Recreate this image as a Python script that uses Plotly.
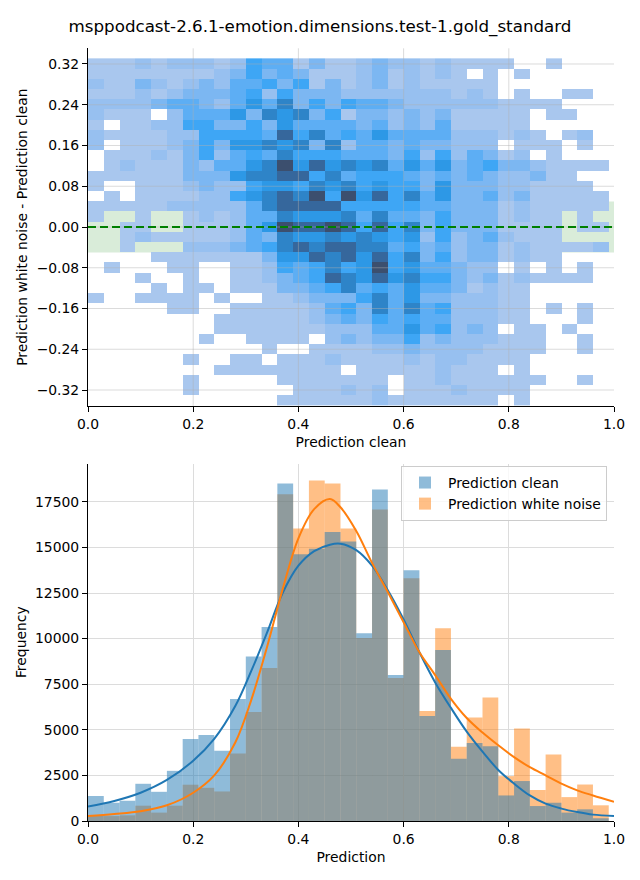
import numpy as np
import plotly.graph_objects as go

TITLE = "msppodcast-2.6.1-emotion.dimensions.test-1.gold_standard"

# ---------------- 2D histogram (top) ----------------
# bin edges
hx_edges = [round(0.03 * i, 2) for i in range(34)]          # 0.00 .. 0.99
hy_edges = [round(-0.351 + 0.02006 * i, 5) for i in range(35)]  # -0.351 .. 0.331

# intensity level of each cell (0 = empty), rows listed from top (high y) to bottom
hist2d_left = [
    [1,1,1,2,1,2,2,2,1,2,5,4,4,1,3,1,1],
    [1,1,1,1,1,1,1,1,2,3,5,3,4,3,1,1,1],
    [2,1,1,3,2,1,2,3,2,4,4,5,3,5,1,3,1],
    [1,1,1,2,1,2,3,3,3,4,5,2,5,3,3,3,2],
    [2,2,2,2,3,4,4,3,2,4,6,4,7,3,5,3,5],
    [2,1,1,1,0,2,4,4,4,6,3,7,6,7,3,5,1],
    [1,0,1,1,2,2,5,5,3,3,5,3,6,4,4,4,4],
    [2,1,1,1,1,2,2,5,5,5,5,4,8,5,7,4,5],
    [2,0,1,1,1,2,3,5,3,6,6,7,6,7,3,7,2],
    [0,1,1,1,2,1,3,5,2,4,5,4,7,5,5,5,4],
    [0,1,2,1,1,1,3,2,4,4,6,7,9,6,8,6,7],
    [1,1,1,1,1,1,3,3,3,6,7,7,8,8,5,7,4],
    [1,0,0,1,1,1,2,3,2,2,5,6,6,5,7,6,7],
    [0,1,0,1,1,1,1,2,2,5,6,7,8,7,9,5,9],
    [1,1,1,1,1,2,2,2,2,2,4,7,8,8,8,8,5],
    [1,0,0,1,0,0,1,2,1,2,4,4,7,6,6,6,7],
    [0,0,1,1,0,0,1,1,1,2,4,6,9,8,8,9,8],
    [0,0,1,2,1,1,1,1,1,2,4,3,7,6,6,7,6],
    [0,0,1,0,0,0,2,2,2,3,4,5,7,8,7,8,8],
    [0,0,0,0,1,1,1,1,1,1,1,3,6,6,8,7,8],
    [0,1,0,0,0,1,1,0,0,1,1,2,5,4,5,7,5],
    [0,0,0,1,0,0,1,0,0,1,1,2,3,4,5,8,7],
    [0,0,0,0,1,0,1,1,0,1,1,1,3,3,4,5,7],
    [1,0,0,1,1,1,1,0,1,0,0,1,1,2,3,3,3],
    [0,0,0,0,0,1,1,0,0,1,1,1,1,1,2,4,5],
    [0,0,0,0,0,0,0,0,1,1,1,1,1,1,2,3,4],
    [0,0,0,0,0,0,0,0,1,1,1,1,1,1,1,2,2],
    [0,0,0,0,0,0,0,1,0,0,1,1,1,1,0,2,3],
    [0,0,0,0,0,0,0,0,0,0,0,1,0,0,1,1,1],
    [0,0,0,0,0,0,1,0,0,1,1,0,1,1,1,2,1],
    [0,0,0,0,0,0,0,0,1,1,1,1,1,1,1,1,0],
    [0,0,0,0,0,0,1,0,0,0,0,0,1,1,1,1,1],
    [0,0,0,0,0,0,1,0,0,0,0,0,0,1,1,1,2],
    [0,0,0,0,0,0,0,0,0,0,0,0,1,1,1,1,1],
]
hist2d_right = [
    [2,3,2,2,1,2,1,1,1,1,0,0,1,0,0,0],
    [2,3,1,2,1,2,1,0,1,0,1,0,0,0,0,0],
    [2,3,1,2,1,1,1,1,1,0,0,0,0,0,0,0],
    [2,2,2,2,2,2,1,2,1,0,1,0,0,1,1,0],
    [4,4,3,2,2,2,2,2,2,1,1,1,1,0,0,0],
    [3,3,2,3,2,3,1,1,1,1,1,0,1,1,0,0],
    [3,4,2,3,2,4,1,1,1,1,1,0,0,0,0,0],
    [4,6,4,4,4,4,2,2,2,1,2,1,0,1,2,0],
    [4,4,3,4,3,3,2,2,2,0,1,1,1,0,1,0],
    [4,4,3,5,2,5,2,4,3,1,2,0,1,0,0,0],
    [6,7,4,6,4,6,3,4,5,3,3,2,1,1,1,1],
    [5,5,5,4,3,4,3,4,3,2,2,3,1,1,0,0],
    [5,6,5,5,3,6,3,3,3,2,2,1,1,1,1,0],
    [6,8,5,7,4,6,3,3,4,2,3,1,1,1,1,1],
    [5,5,5,5,4,4,3,3,3,1,2,1,1,1,1,1],
    [4,7,4,4,3,5,3,3,3,1,2,1,1,0,1,0],
    [5,8,5,7,3,5,3,3,3,1,1,1,1,0,1,1],
    [7,6,5,6,2,5,2,3,4,2,1,1,1,0,0,0],
    [7,7,4,5,3,4,2,3,3,1,2,1,1,1,1,2],
    [6,8,5,7,3,5,2,3,3,1,2,1,1,0,0,0],
    [6,9,5,6,4,4,3,2,2,0,1,0,1,0,1,0],
    [6,8,6,7,5,5,3,2,3,1,2,1,1,1,1,0],
    [4,5,4,6,4,4,3,1,2,1,1,0,0,0,0,0],
    [5,7,4,6,3,3,2,2,2,1,1,0,0,0,0,0],
    [3,7,4,7,4,5,2,2,2,1,1,0,1,0,1,0],
    [3,5,4,5,4,4,2,2,2,1,1,0,0,0,1,0],
    [2,4,4,6,4,5,2,3,2,0,1,1,0,1,0,0],
    [2,3,3,5,2,3,2,2,2,1,1,1,0,0,1,0],
    [1,2,2,3,2,2,2,2,1,1,1,1,0,0,1,0],
    [1,1,1,2,1,2,2,1,1,1,1,0,0,0,0,0],
    [1,1,1,1,1,2,1,1,1,0,1,0,0,0,0,0],
    [1,1,0,1,1,2,1,1,1,1,1,1,0,0,1,0],
    [1,2,0,1,1,1,2,1,1,1,1,0,0,0,0,0],
    [1,2,1,1,1,1,1,1,1,0,1,0,0,0,0,0],
]
band_low, band_high = -0.05, 0.05
top_yticks = [-0.32, -0.24, -0.16, -0.08, 0.0, 0.08, 0.16, 0.24, 0.32]
xticks = [0.0, 0.2, 0.4, 0.6, 0.8, 1.0]

# ---------------- 1D histograms (bottom) ----------------
bin_edges = [round(0.03 * i, 2) for i in range(34)]
counts_clean = [1370, 1000, 1110, 2040, 1600, 2750, 4500, 4720, 3850, 6690, 9020,
                10630, 18500, 14620, 14930, 15840, 15330, 10300, 18180, 8000, 13750,
                5760, 9370, 3410, 4280, 4100, 1400, 2190, 820, 1000, 460, 640, 150]
counts_noise = [310, 270, 310, 840, 460, 840, 1990, 1820, 1620, 3700, 5980,
                8390, 17920, 16040, 18670, 18500, 16040, 10030, 17080, 7840, 13310,
                6030, 10570, 4070, 5680, 6770, 2460, 5070, 1700, 3650, 1310, 2000, 860]
kde_x = [0.0, 0.05, 0.1, 0.15, 0.2, 0.24, 0.28, 0.31, 0.34, 0.37, 0.40, 0.43, 0.46,
         0.48, 0.51, 0.54, 0.57, 0.60, 0.63, 0.66, 0.69, 0.72, 0.75, 0.78, 0.81,
         0.84, 0.87, 0.90, 0.93, 0.96, 1.0]
kde_clean = [800, 1100, 1550, 2250, 3300, 4500, 6300, 8200, 10300, 12500, 14000, 14800,
             15150, 15200, 14850, 14000, 12650, 11050, 9250, 7600, 6200, 4900, 3800,
             2800, 2050, 1400, 950, 680, 490, 350, 270]
kde_noise = [270, 380, 530, 860, 1550, 2500, 4300, 6600, 9500, 12700, 15500, 17100,
             17650, 17200, 15900, 14150, 12550, 10900, 9250, 8000, 6700, 5650, 4850,
             4150, 3500, 2950, 2500, 2050, 1680, 1400, 1050]
bottom_yticks = [0, 2500, 5000, 7500, 10000, 12500, 15000, 17500]

# ---------------- figure ----------------
FONT = "DejaVu Sans"
FS = 13.9
BLUE = "#1f77b4"
ORANGE = "#ff7f0e"

z = []
for left, right in zip(hist2d_left[::-1], hist2d_right[::-1]):
    row = left + right
    z.append([v if v > 0 else None for v in row])

cmap = [[0.0, "#a9c7ee"], [0.125, "#97c0f0"], [0.25, "#7cb7f2"], [0.375, "#5daef4"],
        [0.5, "#3ea6f5"], [0.625, "#2d98e6"], [0.75, "#2e84c8"], [0.875, "#36679c"],
        [1.0, "#3c4f6e"]]

fig = go.Figure()
fig.add_trace(go.Heatmap(x=hx_edges, y=hy_edges, z=z, zmin=1, zmax=9,
                         colorscale=cmap, showscale=False, hoverinfo="skip",
                         xaxis="x", yaxis="y"))

centers = [(bin_edges[i] + bin_edges[i + 1]) / 2 for i in range(len(bin_edges) - 1)]
width = bin_edges[1] - bin_edges[0]
fig.add_trace(go.Bar(x=centers, y=counts_noise, width=width, name="Prediction white noise",
                     marker=dict(color="rgba(255,127,14,0.5)", line=dict(width=0)),
                     xaxis="x2", yaxis="y2", legendrank=2))
fig.add_trace(go.Bar(x=centers, y=counts_clean, width=width, name="Prediction clean",
                     marker=dict(color="rgba(31,119,180,0.5)", line=dict(width=0)),
                     xaxis="x2", yaxis="y2", legendrank=1))
fig.add_trace(go.Scatter(x=kde_x, y=kde_clean, mode="lines", showlegend=False,
                         line=dict(color=BLUE, width=2, shape="spline", smoothing=1.0),
                         xaxis="x2", yaxis="y2"))
fig.add_trace(go.Scatter(x=kde_x, y=kde_noise, mode="lines", showlegend=False,
                         line=dict(color=ORANGE, width=2, shape="spline", smoothing=1.0),
                         xaxis="x2", yaxis="y2"))

W, H = 640, 880
xdom = [88 / W, 614 / W]
top_dom = [1 - 406 / H, 1 - 48.3 / H]
bot_dom = [1 - 821 / H, 1 - 463.5 / H]

axis_common = dict(showline=True, linecolor="black", linewidth=1, ticks="outside",
                   ticklen=5, tickwidth=1, tickcolor="black", zeroline=False,
                   tickfont=dict(family=FONT, size=FS, color="black"), automargin=False)

shapes = [
    dict(type="rect", xref="x domain", yref="y", x0=0, x1=1, y0=band_low, y1=band_high,
         fillcolor="rgba(0,128,0,0.15)", line=dict(width=0), layer="below"),
]
grid_col = "rgba(176,176,176,0.45)"
for yv in top_yticks:
    shapes.append(dict(type="line", xref="x domain", yref="y", x0=0, x1=1, y0=yv, y1=yv,
                       line=dict(color=grid_col, width=1), layer="above"))
for xv in xticks[1:-1]:
    shapes.append(dict(type="line", xref="x", yref="y domain", x0=xv, x1=xv, y0=0, y1=1,
                       line=dict(color=grid_col, width=1), layer="above"))
shapes.append(dict(type="line", xref="x domain", yref="y", x0=0, x1=1, y0=0, y1=0,
                   line=dict(color="green", width=2, dash="8px,4px"), layer="above"))

fig.update_layout(
    width=W, height=H,
    margin=dict(l=0, r=0, t=0, b=0),
    paper_bgcolor="white", plot_bgcolor="white",
    font=dict(family=FONT, size=FS, color="black"),
    barmode="overlay",
    title=dict(text=TITLE, x=0.5, xanchor="center", y=1 - 26 / H, yanchor="middle",
               font=dict(family=FONT, size=16.7, color="black")),
    xaxis=dict(domain=xdom, anchor="y", range=[0, 1], tickvals=xticks, tickformat=".1f",
               showgrid=False,
               title=dict(text="Prediction clean", standoff=6,
                          font=dict(family=FONT, size=FS)), **axis_common),
    yaxis=dict(domain=top_dom, anchor="x", range=[-0.3514, 0.3508], tickvals=top_yticks,
               tickformat=".2f", showgrid=False,
               title=dict(text="Prediction white noise - Prediction clean", standoff=5,
                          font=dict(family=FONT, size=FS)), **axis_common),
    xaxis2=dict(domain=xdom, anchor="y2", range=[0, 1], tickvals=xticks, tickformat=".1f",
                showgrid=True, gridcolor="#dcdcdc", gridwidth=1,
                title=dict(text="Prediction", standoff=6,
                           font=dict(family=FONT, size=FS)), **axis_common),
    yaxis2=dict(domain=bot_dom, anchor="x2", range=[0, 19600], tickvals=bottom_yticks,
                tickformat="d", showgrid=True, gridcolor="#dcdcdc", gridwidth=1,
                title=dict(text="Frequency", standoff=5,
                           font=dict(family=FONT, size=FS)), **axis_common),
    legend=dict(x=607 / W, xanchor="right", y=1 - 466 / H, yanchor="top",
                bgcolor="rgba(255,255,255,0.8)", bordercolor="#cccccc", borderwidth=1,
                font=dict(family=FONT, size=FS), traceorder="normal",
                itemwidth=36, tracegroupgap=4),
    shapes=shapes,
)

fig.write_html("out.html", config={"displayModeBar": False},
               post_script="document.body.style.margin='0';document.body.style.overflow='hidden';")
